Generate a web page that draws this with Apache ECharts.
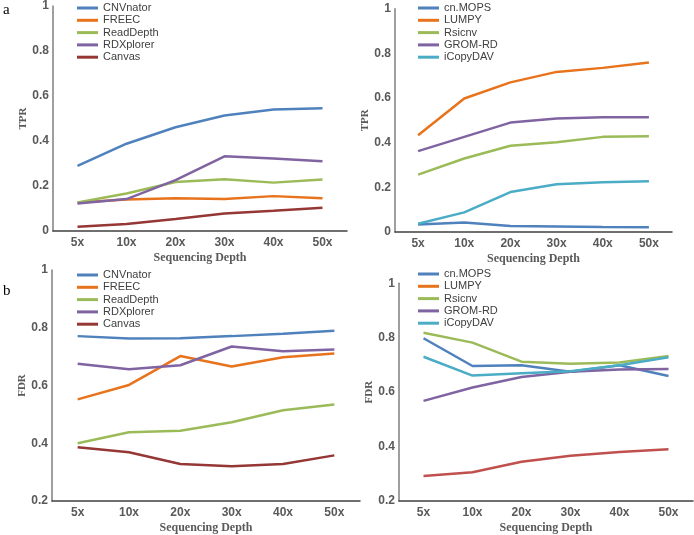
<!DOCTYPE html>
<html>
<head>
<meta charset="utf-8">
<script src="https://cdn.jsdelivr.net/npm/echarts@6/dist/echarts.min.js"></script>
<style>
html,body{margin:0;padding:0;background:#fff;}
#chart{width:694px;height:535px;}
</style>
</head>
<body>
<div id="chart"></div>
<script>
// ---- data ----
var depths = ['5x', '10x', '20x', '30x', '40x', '50x'];

var namesA = ['CNVnator', 'FREEC', 'ReadDepth', 'RDXplorer', 'Canvas'];
var namesB = ['cn.MOPS', 'LUMPY', 'Rsicnv', 'GROM-RD', 'iCopyDAV'];

// Panel a, left: TPR
var tprCNVnator  = [0.289, 0.388, 0.461, 0.513, 0.540, 0.546];
var tprFREEC     = [0.127, 0.140, 0.146, 0.142, 0.155, 0.146];
var tprReadDepth = [0.127, 0.167, 0.218, 0.230, 0.215, 0.229];
var tprRDXplorer = [0.122, 0.142, 0.226, 0.332, 0.322, 0.310];
var tprCanvas    = [0.019, 0.031, 0.053, 0.078, 0.090, 0.103];

// Panel a, right: TPR
var tprCnMOPS    = [0.034, 0.042, 0.027, 0.025, 0.022, 0.021];
var tprLUMPY     = [0.433, 0.598, 0.670, 0.717, 0.735, 0.759];
var tprRsicnv    = [0.257, 0.329, 0.386, 0.402, 0.426, 0.429];
var tprGROMRD    = [0.362, 0.426, 0.490, 0.508, 0.514, 0.514];
var tprICopyDAV  = [0.037, 0.088, 0.179, 0.214, 0.223, 0.227];

// Panel b, left: FDR
var fdrCNVnator  = [0.771, 0.763, 0.764, 0.771, 0.779, 0.790];
var fdrFREEC     = [0.552, 0.602, 0.702, 0.666, 0.698, 0.711];
var fdrReadDepth = [0.400, 0.438, 0.443, 0.473, 0.514, 0.534];
var fdrRDXplorer = [0.675, 0.656, 0.670, 0.735, 0.719, 0.725];
var fdrCanvas    = [0.386, 0.369, 0.328, 0.320, 0.328, 0.358];

// Panel b, right: FDR
var fdrCnMOPS    = [0.798, 0.696, 0.699, 0.675, 0.699, 0.659];
var fdrLUMPY     = [0.292, 0.306, 0.344, 0.366, 0.380, 0.390];
var fdrRsicnv    = [0.818, 0.782, 0.712, 0.704, 0.709, 0.733];
var fdrGROMRD    = [0.568, 0.617, 0.656, 0.675, 0.683, 0.685];
var fdrICopyDAV  = [0.730, 0.661, 0.669, 0.677, 0.699, 0.728];

var tprTicks = [0, 0.2, 0.4, 0.6, 0.8, 1];
var fdrTicks = [0.2, 0.4, 0.6, 0.8, 1];

// ---- styles ----
var colBlue = '#4f81bd', colOrange = '#e8731d', colGreen = '#9bbb59',
    colPurple = '#8064a2', colDarkRed = '#953735', colCyan = '#4bacc6', colRed = '#c0504d';

var panels = [
  { grid: {left: 53, top: 5, width: 294, height: 226}, min: 0, max: 1, yName: 'TPR', yGap: 22,
    legend: {left: 77, top: 2.5}, names: namesA,
    data: [tprCNVnator, tprFREEC, tprReadDepth, tprRDXplorer, tprCanvas],
    colors: [colBlue, colOrange, colGreen, colPurple, colDarkRed] },
  { grid: {left: 395, top: 8.7, width: 277, height: 223.3}, min: 0, max: 1, yName: 'TPR', yGap: 17,
    legend: {left: 418, top: 2.5}, names: namesB,
    data: [tprCnMOPS, tprLUMPY, tprRsicnv, tprGROMRD, tprICopyDAV],
    colors: [colBlue, colOrange, colGreen, colPurple, colCyan] },
  { grid: {left: 52, top: 270, width: 308, height: 232}, min: 0.2, max: 1, yName: 'FDR', yGap: 22,
    legend: {left: 77, top: 269.5}, names: namesA,
    data: [fdrCNVnator, fdrFREEC, fdrReadDepth, fdrRDXplorer, fdrCanvas],
    colors: [colBlue, colOrange, colGreen, colPurple, colDarkRed] },
  { grid: {left: 399, top: 283.3, width: 294, height: 217.7}, min: 0.2, max: 1, yName: 'FDR', yGap: 21,
    legend: {left: 418, top: 268.5}, names: namesB,
    data: [fdrCnMOPS, fdrLUMPY, fdrRsicnv, fdrGROMRD, fdrICopyDAV],
    colors: [colBlue, colRed, colGreen, colPurple, colCyan] }
];

var grids = [], xAxes = [], yAxes = [], series = [], legends = [];
panels.forEach(function (p, i) {
  grids.push(p.grid);
  xAxes.push({
    type: 'category', gridIndex: i, data: depths, boundaryGap: true,
    axisLine: {lineStyle: {color: '#404040', width: 1.5}},
    axisTick: {show: false},
    axisLabel: {color: '#595959', fontFamily: 'Liberation Sans', fontWeight: 'bold', fontSize: 12, margin: 6},
    name: 'Sequencing Depth', nameLocation: 'middle', nameGap: 21,
    nameTextStyle: {color: '#595959', fontFamily: 'Liberation Serif', fontWeight: 'bold', fontSize: 12}
  });
  yAxes.push({
    type: 'value', gridIndex: i, min: p.min, max: p.max, interval: 0.2,
    splitLine: {show: false},
    axisLine: {show: true, lineStyle: {color: '#7f7f7f', width: 1.5}},
    axisTick: {show: false},
    axisLabel: {color: '#595959', fontFamily: 'Liberation Sans', fontWeight: 'bold', fontSize: 12, margin: 4,
      formatter: function (v) { return String(+v.toFixed(1)); }},
    name: p.yName, nameLocation: 'middle', nameGap: p.yGap,
    nameTextStyle: {color: '#595959', fontFamily: 'Liberation Serif', fontWeight: 'bold', fontSize: 11}
  });
  var legendData = [];
  p.names.forEach(function (n, k) {
    series.push({
      type: 'line', name: n, xAxisIndex: i, yAxisIndex: i, data: p.data[k],
      symbol: 'none', smooth: false,
      lineStyle: {color: p.colors[k], width: 2.5},
      itemStyle: {color: p.colors[k]}
    });
    legendData.push(n);
  });
  legends.push({
    show: true, orient: 'vertical', left: p.legend.left, top: p.legend.top,
    data: legendData, icon: 'rect', itemWidth: 21, itemHeight: 3, itemGap: 1.3, itemTextGap: 5,
    padding: 0, selectedMode: false,
    textStyle: {color: '#404040', fontFamily: 'Liberation Sans', fontSize: 11, lineHeight: 11}
  });
});

var chart = echarts.init(document.getElementById('chart'), null, {renderer: 'canvas'});
chart.setOption({
  animation: false,
  backgroundColor: '#ffffff',
  grid: grids, xAxis: xAxes, yAxis: yAxes, series: series, legend: legends,
  graphic: [
    {type: 'text', left: 3, top: 3, style: {text: 'a', font: '15px "Liberation Serif"', fill: '#000'}},
    {type: 'text', left: 3, top: 284, style: {text: 'b', font: '15px "Liberation Serif"', fill: '#000'}}
  ]
});
</script>
</body>
</html>
